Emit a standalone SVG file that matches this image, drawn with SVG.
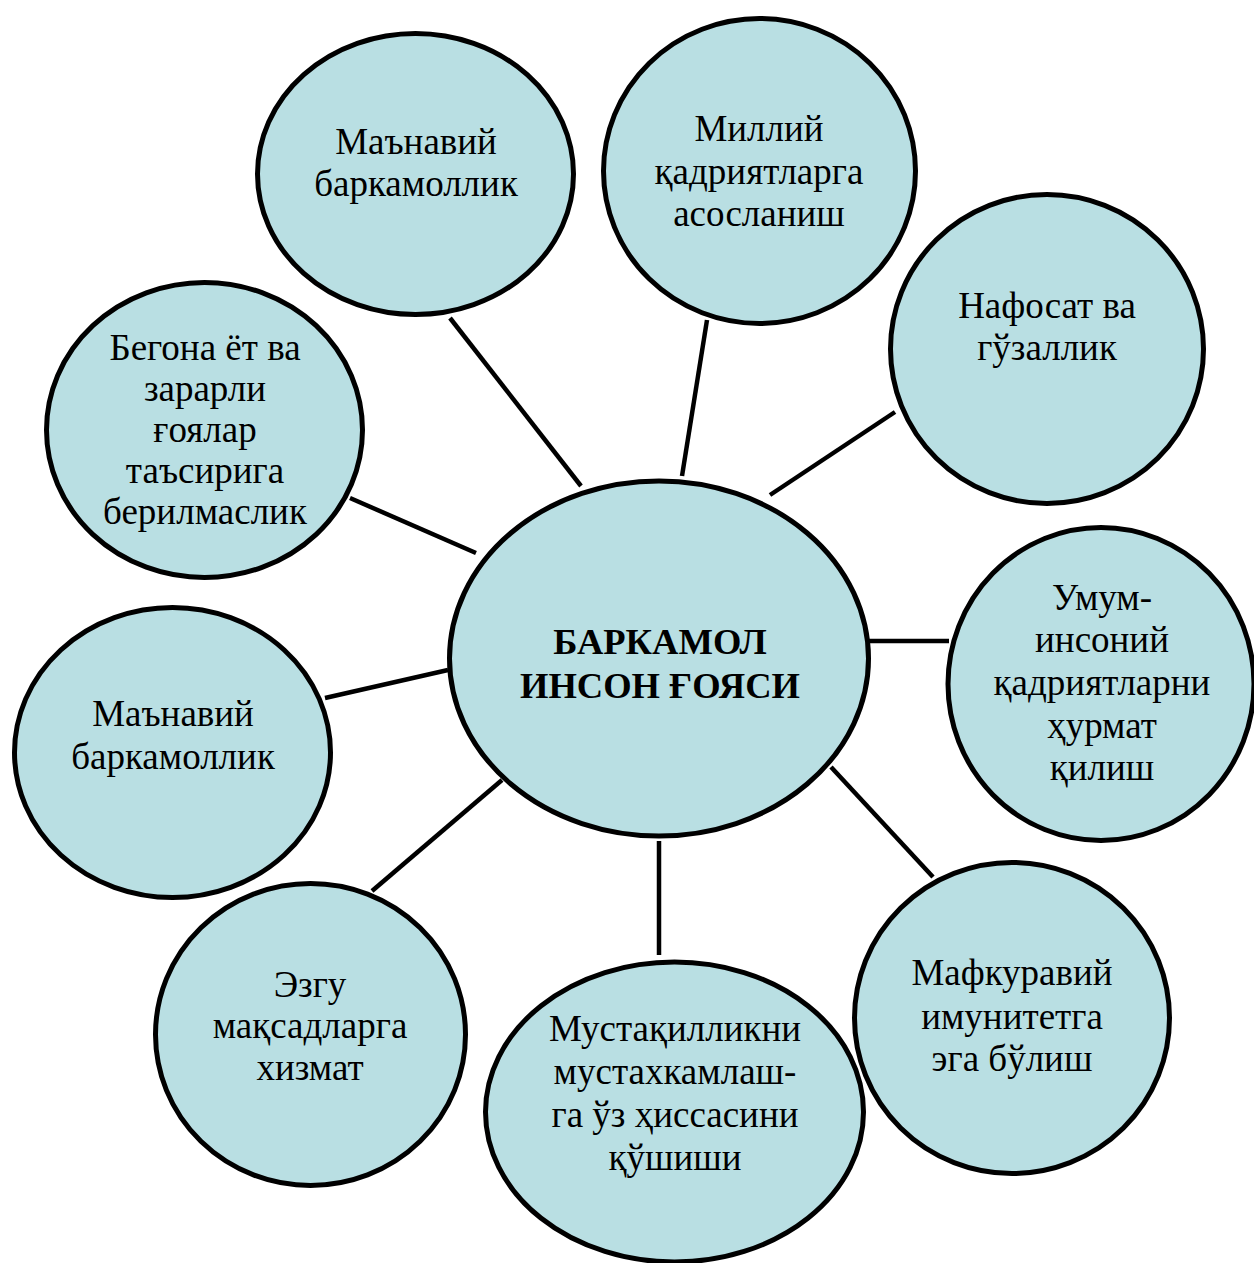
<svg xmlns="http://www.w3.org/2000/svg" width="1254" height="1263" viewBox="0 0 1254 1263">
<style>
.n{fill:#B9DFE3;stroke:#000;stroke-width:5}
.c line{stroke:#000;stroke-width:4.5}
text{font-family:"Liberation Serif","Times New Roman",serif;font-size:37px;fill:#000;text-anchor:middle}
.b{font-weight:bold;font-size:36.5px}
</style>
<rect width="1254" height="1263" fill="#fff"/>
<g id="connectors" class="c">
<line x1="450" y1="318" x2="581" y2="486"/>
<line x1="707" y1="320" x2="682" y2="476"/>
<line x1="895" y1="412" x2="770" y2="495"/>
<line x1="350" y1="498" x2="476" y2="553"/>
<line x1="869" y1="641" x2="949" y2="641"/>
<line x1="325" y1="698" x2="448" y2="670"/>
<line x1="372" y1="891" x2="502" y2="780"/>
<line x1="659" y1="841" x2="659" y2="955"/>
<line x1="831" y1="767" x2="933" y2="877"/>
</g>
<g id="center">
<ellipse class="n" cx="659" cy="658.5" rx="209.5" ry="177.5"/>
<text class="b" x="660" y="654">БАРКАМОЛ</text>
<text class="b" x="660" y="698">ИНСОН ҒОЯСИ</text>
</g>
<g id="n1">
<ellipse class="n" cx="415.5" cy="174" rx="158" ry="140.5"/>
<text x="416" y="154">Маънавий</text>
<text x="416" y="196">баркамоллик</text>
</g>
<g id="n2">
<ellipse class="n" cx="759.5" cy="171" rx="156" ry="152.5"/>
<text x="759" y="141">Миллий</text>
<text x="759" y="184">қадриятларга</text>
<text x="759" y="226">асосланиш</text>
</g>
<g id="n3">
<ellipse class="n" cx="1047" cy="349" rx="156.5" ry="154.5"/>
<text x="1047" y="318">Нафосат ва</text>
<text x="1047" y="360">гўзаллик</text>
</g>
<g id="n4">
<ellipse class="n" cx="204.5" cy="430" rx="158" ry="147.5"/>
<text x="205" y="360">Бегона ёт ва</text>
<text x="205" y="401">зарарли</text>
<text x="205" y="442">ғоялар</text>
<text x="205" y="483">таъсирига</text>
<text x="205" y="524">берилмаслик</text>
</g>
<g id="n5">
<ellipse class="n" cx="1101" cy="684" rx="153" ry="156.5"/>
<text x="1102" y="610">Умум-</text>
<text x="1102" y="652">инсоний</text>
<text x="1102" y="695">қадриятларни</text>
<text x="1102" y="738">ҳурмат</text>
<text x="1102" y="780">қилиш</text>
</g>
<g id="n6">
<ellipse class="n" cx="172.5" cy="752.5" rx="158" ry="145"/>
<text x="173" y="726">Маънавий</text>
<text x="173" y="769">баркамоллик</text>
</g>
<g id="n7">
<ellipse class="n" cx="310.5" cy="1034.5" rx="155" ry="151"/>
<text x="310" y="997">Эзгу</text>
<text x="310" y="1038">мақсадларга</text>
<text x="310" y="1080">хизмат</text>
</g>
<g id="n8">
<ellipse class="n" cx="674.5" cy="1112" rx="189" ry="150"/>
<text x="675" y="1041">Мустақилликни</text>
<text x="675" y="1084">мустахкамлаш-</text>
<text x="675" y="1127">га ўз ҳиссасини</text>
<text x="675" y="1170">қўшиши</text>
</g>
<g id="n9">
<ellipse class="n" cx="1012" cy="1018" rx="157.5" ry="155.5"/>
<text x="1012" y="985">Мафкуравий</text>
<text x="1012" y="1029">имунитетга</text>
<text x="1012" y="1071">эга бўлиш</text>
</g>
</svg>
